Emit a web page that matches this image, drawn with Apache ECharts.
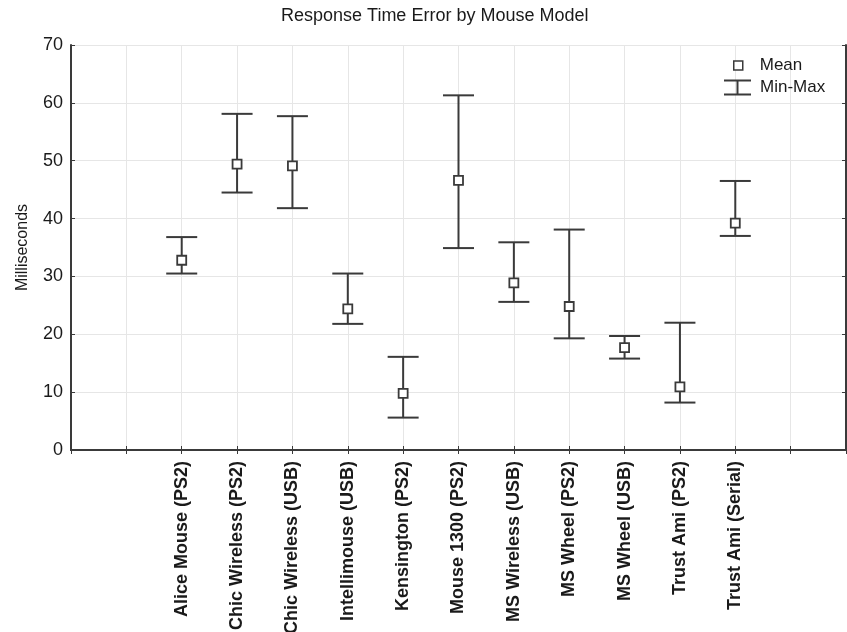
<!DOCTYPE html>
<html>
<head>
<meta charset="utf-8">
<script src="https://cdn.jsdelivr.net/npm/echarts@6/dist/echarts.min.js"></script>
<style>
html,body{margin:0;padding:0;background:#fff;}
#chart{width:847px;height:632px;}
</style>
</head>
<body>
<div id="chart"></div>
<script>
// mouse models
var models = ['Alice Mouse (PS2)', 'Chic Wireless (PS2)', 'Chic Wireless (USB)', 'Intellimouse (USB)',
    'Kensington (PS2)', 'Mouse 1300 (PS2)', 'MS Wireless (USB)', 'MS Wheel (PS2)',
    'MS Wheel (USB)', 'Trust Ami (PS2)', 'Trust Ami (Serial)'];
var meanVals = [32.8, 49.4, 49.1, 24.4, 9.8, 46.6, 28.9, 24.8, 17.7, 10.9, 39.2];
var minVals  = [30.5, 44.5, 41.8, 21.8, 5.6, 34.9, 25.6, 19.3, 15.8, 8.2, 37.0];
var maxVals  = [36.8, 58.1, 57.7, 30.5, 16.1, 61.3, 35.9, 38.1, 19.7, 22.0, 46.5];
var yTicks = [0, 10, 20, 30, 40, 50, 60, 70];

// two empty slots on each side of the models
var cats = ['', ''].concat(models).concat(['', '']);
var off = 2;

var meanData = [];
var rangeData = [];
for (var i = 0; i < models.length; i++) {
    meanData.push([i + off, meanVals[i]]);
    rangeData.push([i + off, minVals[i], maxVals[i]]);
}

var font = 'Liberation Sans, Arial, Helvetica, sans-serif';
var ink = '#3a3a3a';

function drawRange(params, api) {
    var x = api.value(0);
    var lo = api.coord([x, api.value(1)]);
    var hi = api.coord([x, api.value(2)]);
    var w = 15.5;
    var st = {stroke: ink, lineWidth: 2, fill: null};
    return {
        type: 'group',
        children: [
            {type: 'line', shape: {x1: lo[0], y1: lo[1], x2: hi[0], y2: hi[1]}, style: st},
            {type: 'line', shape: {x1: lo[0] - w, y1: lo[1], x2: lo[0] + w, y2: lo[1]}, style: st},
            {type: 'line', shape: {x1: hi[0] - w, y1: hi[1], x2: hi[0] + w, y2: hi[1]}, style: st}
        ]
    };
}

var myChart = echarts.init(document.getElementById('chart'));
myChart.setOption({
    backgroundColor: '#fff',
    animation: false,
    title: {
        text: 'Response Time Error by Mouse Model',
        left: 276, top: 2,
        textStyle: {fontFamily: font, fontSize: 18, fontWeight: 'normal', color: '#1a1a1a'}
    },
    legend: [{
        data: [{name: 'Mean', icon: 'rect'}],
        left: 733, top: 57, padding: 0,
        itemWidth: 9, itemHeight: 9,
        itemStyle: {color: '#fff', borderColor: ink, borderWidth: 1.5},
        textStyle: {fontFamily: font, fontSize: 17, color: '#1a1a1a', padding: [0, 0, 0, 12]}
    }, {
        data: [{name: 'Min-Max', icon: 'path://M0,0H27V2H14.5V14H27V16H0V14H12.5V2H0Z'}],
        left: 724, top: 79, padding: 0,
        itemWidth: 27, itemHeight: 16,
        itemStyle: {color: ink, borderWidth: 0},
        textStyle: {fontFamily: font, fontSize: 17, color: '#1a1a1a', padding: [0, 0, 0, 4]}
    }],
    grid: {left: 71, right: 1, top: 45, bottom: 182, containLabel: false, outerBoundsMode: 'none'},
    xAxis: [{
        type: 'category',
        data: cats,
        boundaryGap: false,
        axisLine: {lineStyle: {color: ink, width: 2}},
        axisTick: {inside: true, length: 4, interval: 0, lineStyle: {color: ink}},
        axisLabel: {interval: 0, rotate: 90, margin: 11, fontFamily: font, fontSize: 18,
            fontWeight: 'bold', color: '#1a1a1a'},
        splitLine: {show: true, interval: 0, lineStyle: {color: '#e6e6e6'}}
    }, {
        type: 'category',
        position: 'top',
        data: cats,
        boundaryGap: false,
        axisLine: {show: true, lineStyle: {color: ink, width: 2}},
        axisTick: {inside: true, length: 4, interval: 0, lineStyle: {color: ink}},
        axisLabel: {show: false},
        splitLine: {show: false}
    }],
    yAxis: [{
        type: 'value',
        min: yTicks[0], max: yTicks[yTicks.length - 1], interval: 10,
        name: 'Milliseconds',
        nameLocation: 'middle',
        nameGap: 40,
        nameTextStyle: {fontFamily: font, fontSize: 16, color: '#1a1a1a'},
        axisLine: {show: true, lineStyle: {color: ink, width: 2}},
        axisTick: {show: true, inside: true, length: 4, lineStyle: {color: ink}},
        axisLabel: {margin: 8, fontFamily: font, fontSize: 18, color: '#1a1a1a'},
        splitLine: {show: true, lineStyle: {color: '#e6e6e6'}}
    }, {
        type: 'value',
        position: 'right',
        min: yTicks[0], max: yTicks[yTicks.length - 1], interval: 10,
        axisLine: {show: true, lineStyle: {color: ink, width: 2}},
        axisTick: {show: true, inside: true, length: 4, lineStyle: {color: ink}},
        axisLabel: {show: false},
        splitLine: {show: false}
    }],
    series: [{
        name: 'Min-Max',
        type: 'custom',
        renderItem: drawRange,
        data: rangeData,
        encode: {x: 0, y: [1, 2]},
        itemStyle: {color: ink},
        z: 2
    }, {
        name: 'Mean',
        type: 'scatter',
        data: meanData,
        symbol: 'rect',
        symbolSize: 9,
        itemStyle: {color: '#fff', borderColor: ink, borderWidth: 1.8, opacity: 1},
        z: 3
    }]
});
</script>
</body>
</html>
